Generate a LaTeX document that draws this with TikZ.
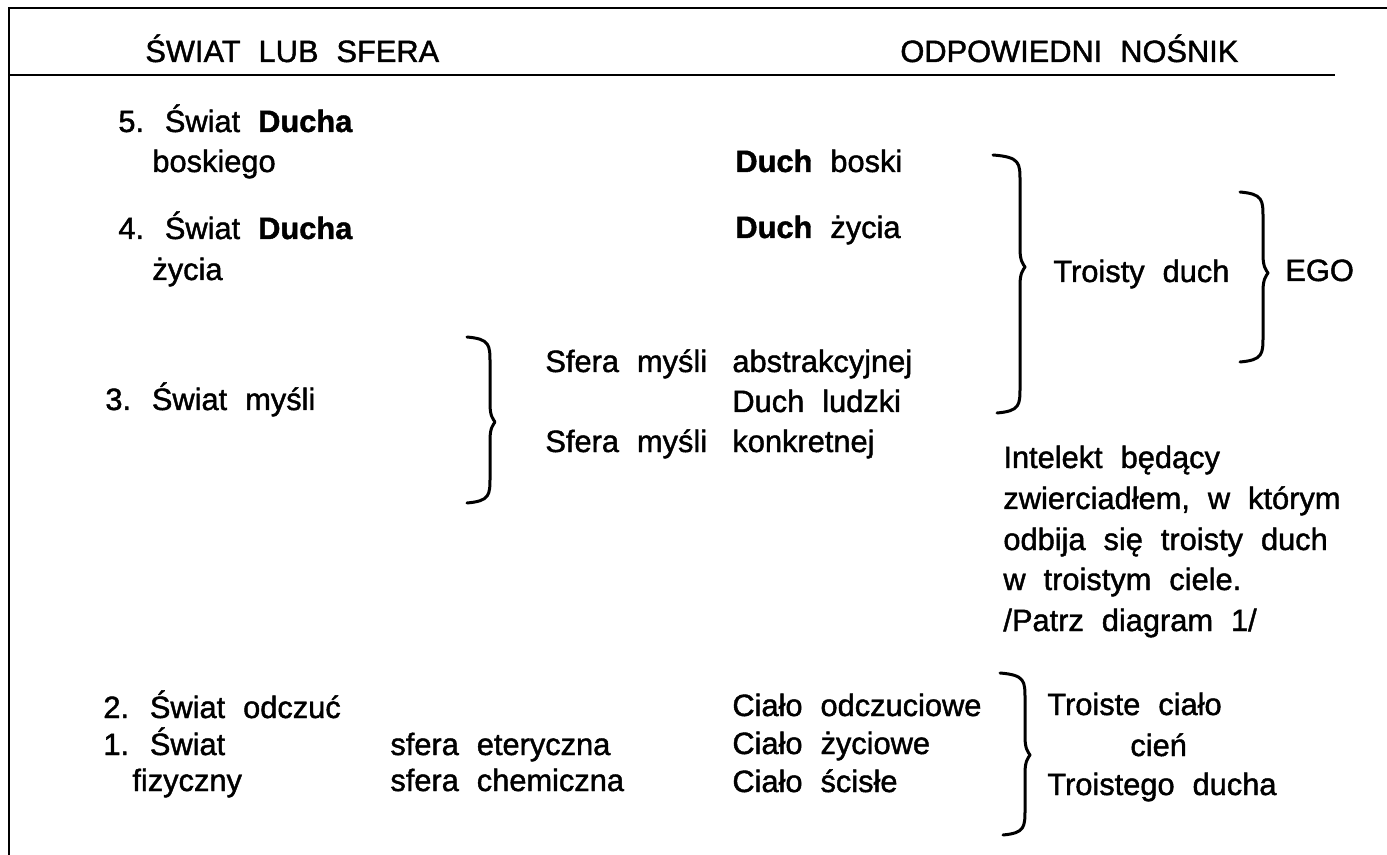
\documentclass[tikz,border=0pt]{standalone}
\usepackage{fontspec}
\setmainfont{Liberation Sans}[WordSpace=2.1, FakeBold=1.4]
\newcommand\drawcurly[7]{%
  \draw[curly] (#1,#2) .. controls (#5,#2+2) and (#5,#2+8) .. (#5,#2+26)
    -- (#5,#7-18) .. controls (#5,#7-6) and (#6-2,#7-3) .. (#6,#7)
    .. controls (#6-2,#7+3) and (#5,#7+6) .. (#5,#7+18)
    -- (#5,#4-26) .. controls (#5,#4-8) and (#5,#4-2) .. (#3,#4);}
\tikzset{
  txt/.style={anchor=base west, inner sep=0pt, font=\fontsize{15.4}{18}\selectfont},
  curly/.style={line width=1.5pt, line cap=round, line join=round},
  rule/.style={line width=1.4pt}
}
\begin{document}
\begin{tikzpicture}[x=0.5pt,y=-0.5pt]
\useasboundingbox (0,0) rectangle (1387,855);
% frame
\coordinate (tl) at (9,8);
\coordinate (tr) at (1387,8);
\coordinate (bl) at (9,855);
\coordinate (ul) at (9,75);
\coordinate (ur) at (1335,75);
\draw[rule] (bl) -- (tl) -- (tr);
\draw[rule] (ul) -- (ur);
% headers
\node[txt] (h1) at (145,62) {ŚWIAT LUB SFERA};
\node[txt] (h2) at (900,62) {ODPOWIEDNI NOŚNIK};
% left column
\node[txt] (w5) at (118,132) {5. Świat \textbf{Ducha}};
\node[txt] (w5b) at (152,172) {boskiego};
\node[txt] (w4) at (118,239) {4. Świat \textbf{Ducha}};
\node[txt] (w4b) at (152,280) {życia};
\node[txt] (w3) at (105,410) {3. Świat myśli};
\node[txt] (w2) at (103,718) {2. Świat odczuć};
\node[txt] (w1) at (103,755) {1. Świat};
\node[txt] (w1b) at (132,791) {fizyczny};
\node[txt] (se) at (390,755) {sfera eteryczna};
\node[txt] (sc) at (390,791) {sfera chemiczna};
% middle column
\node[txt] (db) at (735,172) {\textbf{Duch} boski};
\node[txt] (dz) at (735,238) {\textbf{Duch} życia};
\node[txt] (sm1) at (545,372) {Sfera myśli};
\node[txt] (abs) at (732,372) {abstrakcyjnej};
\node[txt] (dl) at (732,412) {Duch ludzki};
\node[txt] (sm2) at (545,452) {Sfera myśli};
\node[txt] (kon) at (732,452) {konkretnej};
\node[txt] (co) at (732,716) {Ciało odczuciowe};
\node[txt] (cz) at (732,754) {Ciało życiowe};
\node[txt] (cs) at (732,792) {Ciało ścisłe};
% right column
\node[txt] (td) at (1053,282) {Troisty duch};
\node[txt] (ego) at (1285,281) {EGO};
\node[txt] (i1) at (1003,468) {Intelekt będący};
\node[txt] (i2) at (1003,509) {zwierciadłem, w którym};
\node[txt] (i3) at (1003,550) {odbija się troisty duch};
\node[txt] (i4) at (1003,590) {w troistym ciele.};
\node[txt] (i5) at (1003,631) {/Patrz diagram 1/};
\node[txt] (tc) at (1047,715) {Troiste ciało};
\node[txt] (cien) at (1130,756) {cień};
\node[txt] (tdu) at (1047,795) {Troistego ducha};
% braces
\drawcurly{467}{337}{467}{503}{490}{495}{422}
\drawcurly{993}{155}{997}{413}{1020}{1025}{267}
\drawcurly{1240}{192}{1240}{362}{1263}{1268}{273}
\drawcurly{1000}{673}{1003}{835}{1025}{1030}{755}
\end{tikzpicture}
\end{document}
